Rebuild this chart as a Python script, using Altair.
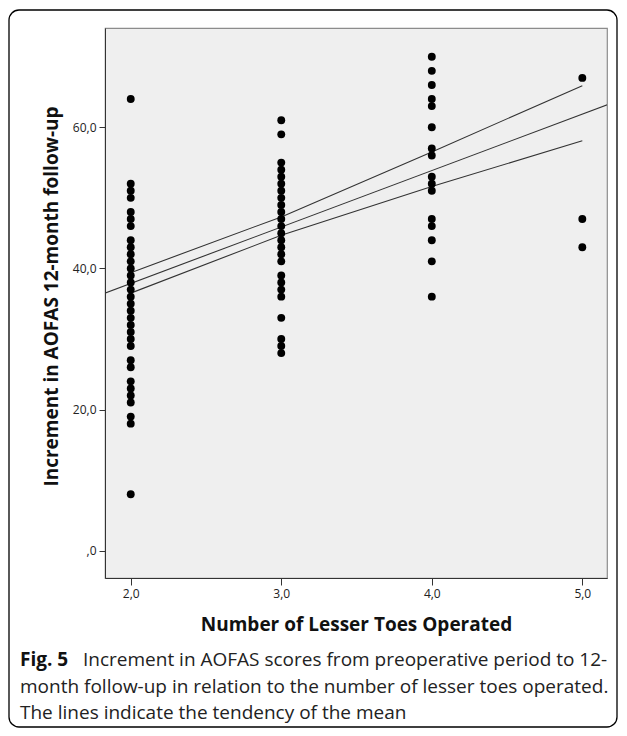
import altair as alt
import pandas as pd

# ---- data ----
col2_values = [64, 52, 51, 50, 48, 47, 46, 44, 43, 42, 41, 40, 39, 38, 37, 36, 35, 34, 33,
               32, 31, 30, 29, 27, 26, 24, 23, 22, 21, 19, 18, 8]
col3_values = [61, 59, 55, 54, 53, 52, 51, 50, 49, 48, 47, 46, 45, 44, 43, 42, 41, 39, 38,
               37, 36, 33, 30, 29, 28]
col4_values = [70, 68, 66, 64, 63, 60, 57, 56, 53, 52, 51, 47, 46, 44, 41, 36]
col5_values = [67, 47, 43]

fit_x = [1.8, 5.2]
fit_y = [36.27, 63.47]

ci_x = [2, 3, 4, 5]
ci_upper = [39.4, 47.3, 56.5, 65.9]
ci_lower = [36.5, 44.7, 51.6, 58.1]

x_ticks = [2, 3, 4, 5]
x_tick_labels = ["2,0", "3,0", "4,0", "5,0"]
y_ticks = [0, 20, 40, 60]
y_tick_labels = [",0", "20,0", "40,0", "60,0"]

x_title = "Number of Lesser Toes Operated"
y_title = "Increment in AOFAS 12-month follow-up"
caption_bold = "Fig. 5"
caption_lines = [
    "Increment in AOFAS scores from preoperative period to 12-",
    "month follow-up in relation to the number of lesser toes operated.",
    "The lines indicate the tendency of the mean",
]

# ---- build tables ----
rows = []
for xv, col in zip([2, 3, 4, 5], [col2_values, col3_values, col4_values, col5_values]):
    for v in col:
        rows.append({"toes": xv, "inc": v})
pts = pd.DataFrame(rows)

fit_df = pd.DataFrame({"toes": fit_x, "inc": fit_y})
ci_df = pd.concat([
    pd.DataFrame({"toes": ci_x, "inc": ci_upper, "band": "upper"}),
    pd.DataFrame({"toes": ci_x, "inc": ci_lower, "band": "lower"}),
])


def label_expr(ticks, labels):
    expr = "''"
    for t, l in reversed(list(zip(ticks, labels))):
        expr = f"datum.value == {t} ? '{l}' : ({expr})"
    return expr


FONT = "Open Sans"
x_scale = alt.Scale(domain=[1.829, 5.164], nice=False, zero=False)
y_scale = alt.Scale(domain=[-3.87, 74.07], nice=False, zero=False)

x_enc = alt.X("toes:Q", scale=x_scale, axis=alt.Axis(
    values=x_ticks, labelExpr=label_expr(x_ticks, x_tick_labels), title=x_title,
    grid=False, tickSize=7, labelPadding=3, titlePadding=16,
    labelFontSize=12, titleFontSize=19, titleFontWeight="bold",
    domainColor="#333", tickColor="#333", labelColor="#222", titleColor="#111",
    labelFont=FONT, titleFont=FONT))
y_enc = alt.Y("inc:Q", scale=y_scale, axis=alt.Axis(
    values=y_ticks, labelExpr=label_expr(y_ticks, y_tick_labels), title=y_title,
    grid=False, tickSize=6, labelPadding=3, titlePadding=11, titleY=268,
    labelFontSize=12, titleFontSize=19, titleFontWeight="bold",
    domainColor="#333", tickColor="#333", labelColor="#222", titleColor="#111",
    labelFont=FONT, titleFont=FONT))

points = alt.Chart(pts).mark_point(filled=True, shape="circle", size=62, color="black",
                                   opacity=1).encode(x=x_enc, y=y_enc)

fit = alt.Chart(fit_df).mark_line(color="#333", strokeWidth=1.1, clip=True).encode(
    x=alt.X("toes:Q", scale=x_scale), y=alt.Y("inc:Q", scale=y_scale))

ci = alt.Chart(ci_df).mark_line(color="#333", strokeWidth=1.1).encode(
    x=alt.X("toes:Q", scale=x_scale), y=alt.Y("inc:Q", scale=y_scale),
    detail="band:N")

border = alt.Chart(pd.DataFrame({"a": [0]})).mark_rect(
    fillOpacity=0, stroke="black", strokeWidth=1.3, cornerRadius=10).encode(
    x=alt.value(-96), x2=alt.value(512), y=alt.value(-18), y2=alt.value(699))

cap_bold = alt.Chart(pd.DataFrame({"t": [caption_bold]})).mark_text(
    align="left", baseline="middle", font=FONT, fontSize=19, fontWeight="bold",
    color="#111").encode(x=alt.value(-85), y=alt.value(632), text="t:N")

cap_layers = []
cap_x = [-22, -85, -85]
cap_y = [632, 659, 685]
for line, cx, cy in zip(caption_lines, cap_x, cap_y):
    cap_layers.append(alt.Chart(pd.DataFrame({"t": [line]})).mark_text(
        align="left", baseline="middle", font=FONT, fontSize=19,
        color="#222").encode(x=alt.value(cx), y=alt.value(cy), text="t:N"))

chart = alt.layer(fit, ci, points, border, cap_bold, *cap_layers).properties(
    width=502, height=550,
    autosize=alt.AutoSizeParams(type="none"),
    padding={"left": 97, "top": 20, "right": 12, "bottom": 150},
    background="white",
).configure_view(fill="#efefef", stroke="#8c8c8c", strokeWidth=1.2)

chart.save("out.html", embed_options={"renderer": "svg", "actions": False})
